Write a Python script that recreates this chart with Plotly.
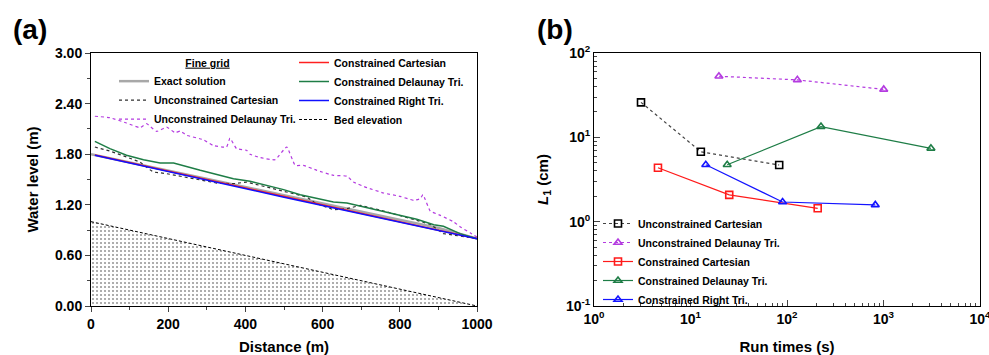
import plotly.graph_objects as go

# ---------------- Panel (a) data ----------------
exact_x = [0, 250, 500, 750, 900, 1000]
exact_y = [1.80, 1.56, 1.315, 1.07, 0.925, 0.80]

ccart_x = [10, 500, 900, 1000]
ccart_y = [1.79, 1.295, 0.898, 0.80]

cright_x = [10, 500, 1000]
cright_y = [1.787, 1.29, 0.798]

cdel_x = [10, 49, 92, 136, 179, 214, 283, 369, 412, 499, 542, 628, 663, 715, 758, 844, 888, 913, 956, 1000]
cdel_y = [1.953, 1.866, 1.787, 1.735, 1.696, 1.696, 1.609, 1.51, 1.478, 1.38, 1.32, 1.233, 1.22, 1.166, 1.12, 1.028, 0.964, 0.945, 0.858, 0.798]

ucart_x = [10, 49, 92, 127, 149, 161, 196, 240, 283, 326, 369, 403, 438, 473, 525, 559, 581, 628, 663, 698, 758, 801, 844, 879, 896, 913, 1000]
ucart_y = [1.885, 1.838, 1.767, 1.707, 1.628, 1.589, 1.569, 1.53, 1.49, 1.458, 1.45, 1.47, 1.43, 1.39, 1.332, 1.292, 1.221, 1.142, 1.154, 1.194, 1.126, 1.075, 1.016, 0.968, 0.917, 0.858, 0.80]

udel_x = [10, 49, 92, 127, 144, 170, 196, 218, 231, 248, 291, 316, 351, 360, 377, 403, 412, 438, 477, 507, 529, 550, 585, 628, 663, 680, 715, 758, 801, 836, 853, 860, 879, 905, 940, 957, 983, 1000]
udel_y = [2.25, 2.233, 2.17, 2.115, 2.162, 2.07, 2.12, 2.055, 2.075, 2.024, 1.972, 1.905, 1.885, 1.99, 1.866, 1.846, 1.80, 1.76, 1.735, 1.885, 1.668, 1.668, 1.609, 1.549, 1.54, 1.47, 1.403, 1.34, 1.30, 1.253, 1.273, 1.32, 1.126, 1.075, 0.996, 0.937, 0.866, 0.818]

bed_x = [0, 1000]
bed_y = [1.0, 0.0]

# ---------------- Panel (b) data ----------------
b_ucart_t = [3.07, 12.8, 83]
b_ucart_l = [26, 6.75, 4.7]
b_udel_t = [19.7, 128, 1005]
b_udel_l = [53, 48, 37]
b_ccart_t = [4.6, 25.2, 208]
b_ccart_l = [4.36, 2.08, 1.44]
b_cdel_t = [24, 225, 3100]
b_cdel_l = [4.73, 13.4, 7.4]
b_cright_t = [14.4, 90, 822]
b_cright_l = [4.73, 1.71, 1.58]

FONT = "Liberation Sans"
PURPLE = "#b43be0"
GREEN = "#1e7d46"

fig = go.Figure()

# Bed fill (no legend)
fig.add_trace(go.Scatter(x=bed_x, y=bed_y, mode="lines", line=dict(width=0),
                         fill="tozeroy", fillcolor="white",
                         fillpattern=dict(shape=".", size=4, solidity=0.22, fgcolor="#333333", bgcolor="white"),
                         showlegend=False, hoverinfo="skip", xaxis="x", yaxis="y"))

# column 1 legend
fig.add_trace(go.Scatter(x=exact_x, y=exact_y, mode="lines", name="Exact solution",
                         line=dict(color="#a8a8a8", width=2.5), legend="legend", xaxis="x", yaxis="y"))
fig.add_trace(go.Scatter(x=ucart_x, y=ucart_y, mode="lines", name="Unconstrained Cartesian",
                         line=dict(color="#303030", width=1.2, dash="dot"), legend="legend", xaxis="x", yaxis="y"))
fig.add_trace(go.Scatter(x=udel_x, y=udel_y, mode="lines", name="Unconstrained Delaunay Tri.",
                         line=dict(color=PURPLE, width=1.2, dash="dot", shape="spline", smoothing=0.4),
                         legend="legend", xaxis="x", yaxis="y"))
# column 2 legend
fig.add_trace(go.Scatter(x=ccart_x, y=ccart_y, mode="lines", name="Constrained Cartesian",
                         line=dict(color="#ff2020", width=1.5), legend="legend2", xaxis="x", yaxis="y"))
fig.add_trace(go.Scatter(x=cdel_x, y=cdel_y, mode="lines", name="Constrained Delaunay Tri.",
                         line=dict(color=GREEN, width=1.5), legend="legend2", xaxis="x", yaxis="y"))
fig.add_trace(go.Scatter(x=cright_x, y=cright_y, mode="lines", name="Constrained Right Tri.",
                         line=dict(color="#1010ff", width=1.5), legend="legend2", xaxis="x", yaxis="y"))
fig.add_trace(go.Scatter(x=bed_x, y=bed_y, mode="lines", name="Bed elevation",
                         line=dict(color="black", width=1, dash="3px,2px"), legend="legend2", xaxis="x", yaxis="y"))

# Panel (b)
def add_b(t, l, name, color, symbol, dash, lcolor=None):
    fig.add_trace(go.Scatter(x=t, y=l, mode="lines+markers", name=name,
                             line=dict(color=lcolor or color, width=1.2, dash=dash),
                             marker=dict(symbol=symbol, size=7, color=color,
                                         line=dict(color=color, width=1.6)),
                             legend="legend3", xaxis="x2", yaxis="y2"))

add_b(b_ucart_t, b_ucart_l, "Unconstrained Cartesian", "black", "square-open", "dot", "#444444")
add_b(b_udel_t, b_udel_l, "Unconstrained Delaunay Tri.", PURPLE, "triangle-up-open", "dot")
add_b(b_ccart_t, b_ccart_l, "Constrained Cartesian", "#ff1a1a", "square-open", "solid")
add_b(b_cdel_t, b_cdel_l, "Constrained Delaunay Tri.", GREEN, "triangle-up-open", "solid")
add_b(b_cright_t, b_cright_l, "Constrained Right Tri.", "#1414ff", "triangle-up-open", "solid")

tickfont = dict(family=FONT, size=14, color="black", weight="bold")
titlefont = dict(family=FONT, size=15, color="black", weight="bold")
legfont = dict(family=FONT, size=10.5, color="black", weight="bold")

Y0, Y1 = 1 - 306 / 355, 1 - 53 / 355

major_log_x = [1, 10, 100, 1000, 10000]
minor_log_x = [m * d for d in [1, 10, 100, 1000] for m in range(2, 10)]
major_log_y = [0.1, 1, 10, 100]
minor_log_y = [m * d for d in [0.1, 1, 10] for m in range(2, 10)]

common = dict(showline=True, mirror=True, linecolor="black", linewidth=1,
              showgrid=False, zeroline=False, automargin=False, tickfont=tickfont,
              ticklabeloverflow="allow")

fig.update_layout(
    width=989, height=355,
    margin=dict(l=0, r=0, t=0, b=0, autoexpand=False),
    paper_bgcolor="white", plot_bgcolor="white",
    font=dict(family=FONT, color="black"),
    xaxis=dict(domain=[91 / 989, 477 / 989], range=[0, 1000], anchor="y",
               tickvals=[0, 200, 400, 600, 800, 1000], ticks="outside", ticklen=5,
               minor=dict(tickvals=[100, 300, 500, 700, 900], ticks="outside", ticklen=3, showgrid=False),
               title=dict(text="Distance (m)", font=titlefont, standoff=14), **common),
    yaxis=dict(domain=[Y0, Y1], range=[0, 3.0], anchor="x",
               tickvals=[0, 0.6, 1.2, 1.8, 2.4, 3.0], tickformat=".2f", ticks="outside", ticklen=5,
               minor=dict(tickvals=[0.3, 0.9, 1.5, 2.1, 2.7], ticks="outside", ticklen=3, showgrid=False),
               title=dict(text="Water level (m)", font=titlefont, standoff=12), **common),
    xaxis2=dict(domain=[594 / 989, 980 / 989], type="log", range=[0, 4], anchor="y2",
                tickvals=major_log_x,
                ticktext=["10<sup>0</sup>", "10<sup>1</sup>", "10<sup>2</sup>", "10<sup>3</sup>", "10<sup>4</sup>"],
                ticks="inside", ticklen=6,
                minor=dict(tickvals=minor_log_x, ticks="inside", ticklen=3, showgrid=False),
                title=dict(text="Run times (s)", font=titlefont, standoff=16), **common),
    yaxis2=dict(domain=[Y0, Y1], type="log", range=[-1, 2], anchor="x2",
                tickvals=major_log_y,
                ticktext=["10<sup>-1</sup>", "10<sup>0</sup>", "10<sup>1</sup>", "10<sup>2</sup>"],
                ticks="inside", ticklen=6,
                minor=dict(tickvals=minor_log_y, ticks="inside", ticklen=3, showgrid=False),
                title=dict(text="<i>L</i><sub>1</sub> (cm)", font=titlefont, standoff=13), **common),
    legend=dict(x=114 / 989, y=1 - 53 / 355, xanchor="left", yanchor="top",
                bgcolor="rgba(0,0,0,0)", font=legfont, tracegroupgap=0, itemwidth=30,
                title=dict(text="<u>Fine grid</u>", side="top center", font=legfont)),
    legend2=dict(x=294 / 989, y=1 - 48 / 355, xanchor="left", yanchor="top",
                 bgcolor="rgba(0,0,0,0)", font=legfont, tracegroupgap=0, itemwidth=30),
    legend3=dict(x=598 / 989, y=1 - 209 / 355, xanchor="left", yanchor="top",
                 bgcolor="rgba(0,0,0,0)", font=legfont, tracegroupgap=0, itemwidth=30),
    annotations=[
        dict(text="<b>(a)</b>", x=30 / 989, y=1 - 29 / 355, xref="paper", yref="paper",
             xanchor="center", yanchor="middle",
             showarrow=False, font=dict(family=FONT, size=28, color="black")),
        dict(text="<b>(b)</b>", x=555 / 989, y=1 - 29 / 355, xref="paper", yref="paper",
             xanchor="center", yanchor="middle",
             showarrow=False, font=dict(family=FONT, size=28, color="black")),
    ],
)

fig.write_html("out.html")
